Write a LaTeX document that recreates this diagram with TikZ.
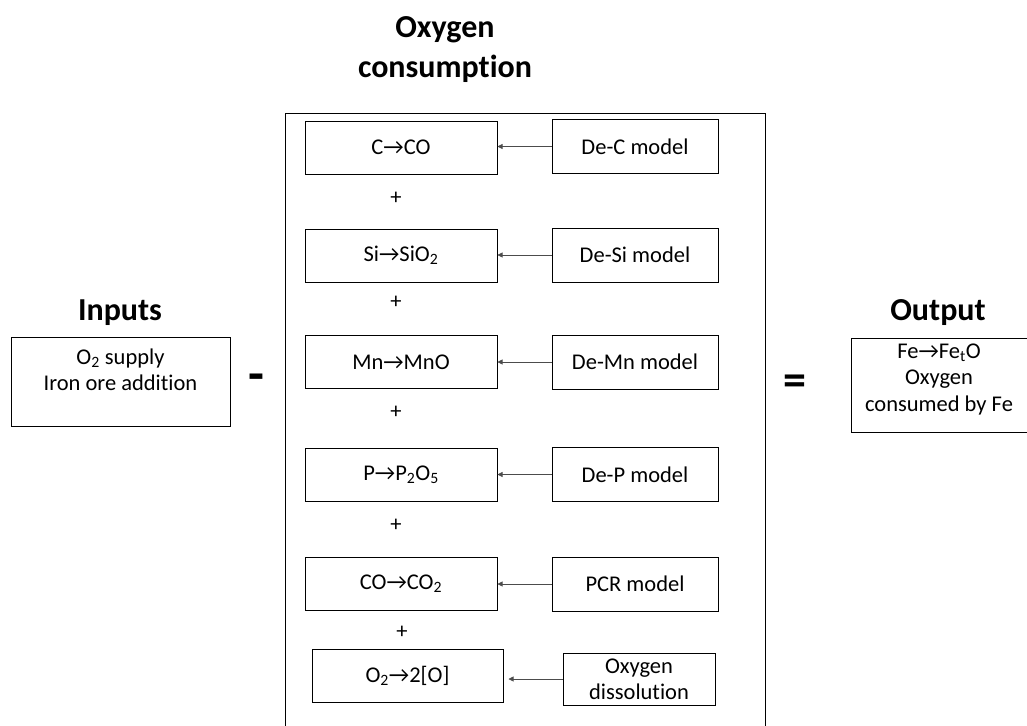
\documentclass[tikz,border=0pt]{standalone}
\usepackage{fontspec}
\setmainfont{Carlito}[Ligatures=NoCommon]
\usetikzlibrary{arrows.meta}

\begin{document}
\begin{tikzpicture}[x=1pt, y=-1pt,
    rxn/.style={draw, line width=1pt, minimum width=192pt, minimum height=53pt, inner sep=0pt,
        font=\fontsize{22.5}{26}\selectfont},
    mdl/.style={draw, line width=1pt, minimum width=166pt, minimum height=54pt, inner sep=0pt,
        font=\fontsize{22.5}{26}\selectfont, align=center},
    iobox/.style={draw, line width=1pt, inner sep=0pt},
    txt/.style={font=\fontsize{22.5}{26.5}\selectfont, align=center},
    ttl/.style={font=\fontsize{32}{40}\selectfont\bfseries, align=center},
    arr/.style={-{Triangle[length=5pt, width=5pt]}, line width=0.6pt, black!70}]
    \useasboundingbox (0,0) rectangle (1027,725);

    % Titles
    \node[ttl] (inttl) at (120,313) {Inputs};
    \node[ttl] (outttl) at (938,313) {Output};
    \node[ttl] (conttl) at (445,50) {Oxygen\\consumption};

    % Inputs and output
    \node[iobox, minimum width=219pt, minimum height=89pt] (inbox) at (120.5,381.5) {};
    \node[txt] (intxt) at (120.5,370) {O\textsubscript{2} supply\\Iron ore addition};
    \node[iobox, minimum width=177pt, minimum height=94pt] (outbox) at (939.5,385) {};
    \node[txt] (outtxt) at (939,379.5) {Fe\textrightarrow Fe\textsubscript{t}O\\Oxygen\\consumed by Fe};
    \node[font=\fontsize{52}{52}\selectfont\bfseries] (minus) at (256,383) {-};
    \node[font=\fontsize{46}{46}\selectfont\bfseries] (equal) at (795,385) {=};

    % Consumption frame (open at the bottom)
    \draw[line width=1pt] (285,735) |- (765,113) -- (765,735);

    % Reactions
    \node[rxn] (rC) at (401,147.5) {C\textrightarrow CO};
    \node[rxn] (rSi) at (401,255.5) {Si\textrightarrow SiO\textsubscript{2}};
    \node[rxn] (rMn) at (401,362) {Mn\textrightarrow MnO};
    \node[rxn] (rP) at (401,474.5) {P\textrightarrow P\textsubscript{2}O\textsubscript{5}};
    \node[rxn] (rCO) at (401,584) {CO\textrightarrow CO\textsubscript{2}};
    \node[rxn, minimum width=191pt] (rO) at (407.5,676) {O\textsubscript{2}\textrightarrow 2[O]};

    % Models
    \node[mdl] (mC) at (635,146.5) {De-C model};
    \node[mdl] (mSi) at (635,255) {De-Si model};
    \node[mdl] (mMn) at (635,362) {De-Mn model};
    \node[mdl] (mP) at (635,474.5) {De-P model};
    \node[mdl] (mPCR) at (635,584) {PCR model};
    \node[mdl, minimum width=152pt, minimum height=52pt] (mdiss) at (639,679) {Oxygen\\dissolution};

    % Plus signs
    \foreach \px/\py [count=\i] in {396/198, 396/302, 396/412, 396/525, 402/632}
        \node[txt] (plus\i) at (\px,\py) {+};

    % Model arrows
    \foreach \m/\r in {mC/rC, mSi/rSi, mMn/rMn, mP/rP, mPCR/rCO}
        \draw[arr] (\m.west) -- (\m.west -| \r.east);
    \draw[arr, shorten >=5pt] (mdiss.west) -- (mdiss.west -| rO.east);
\end{tikzpicture}
\end{document}
